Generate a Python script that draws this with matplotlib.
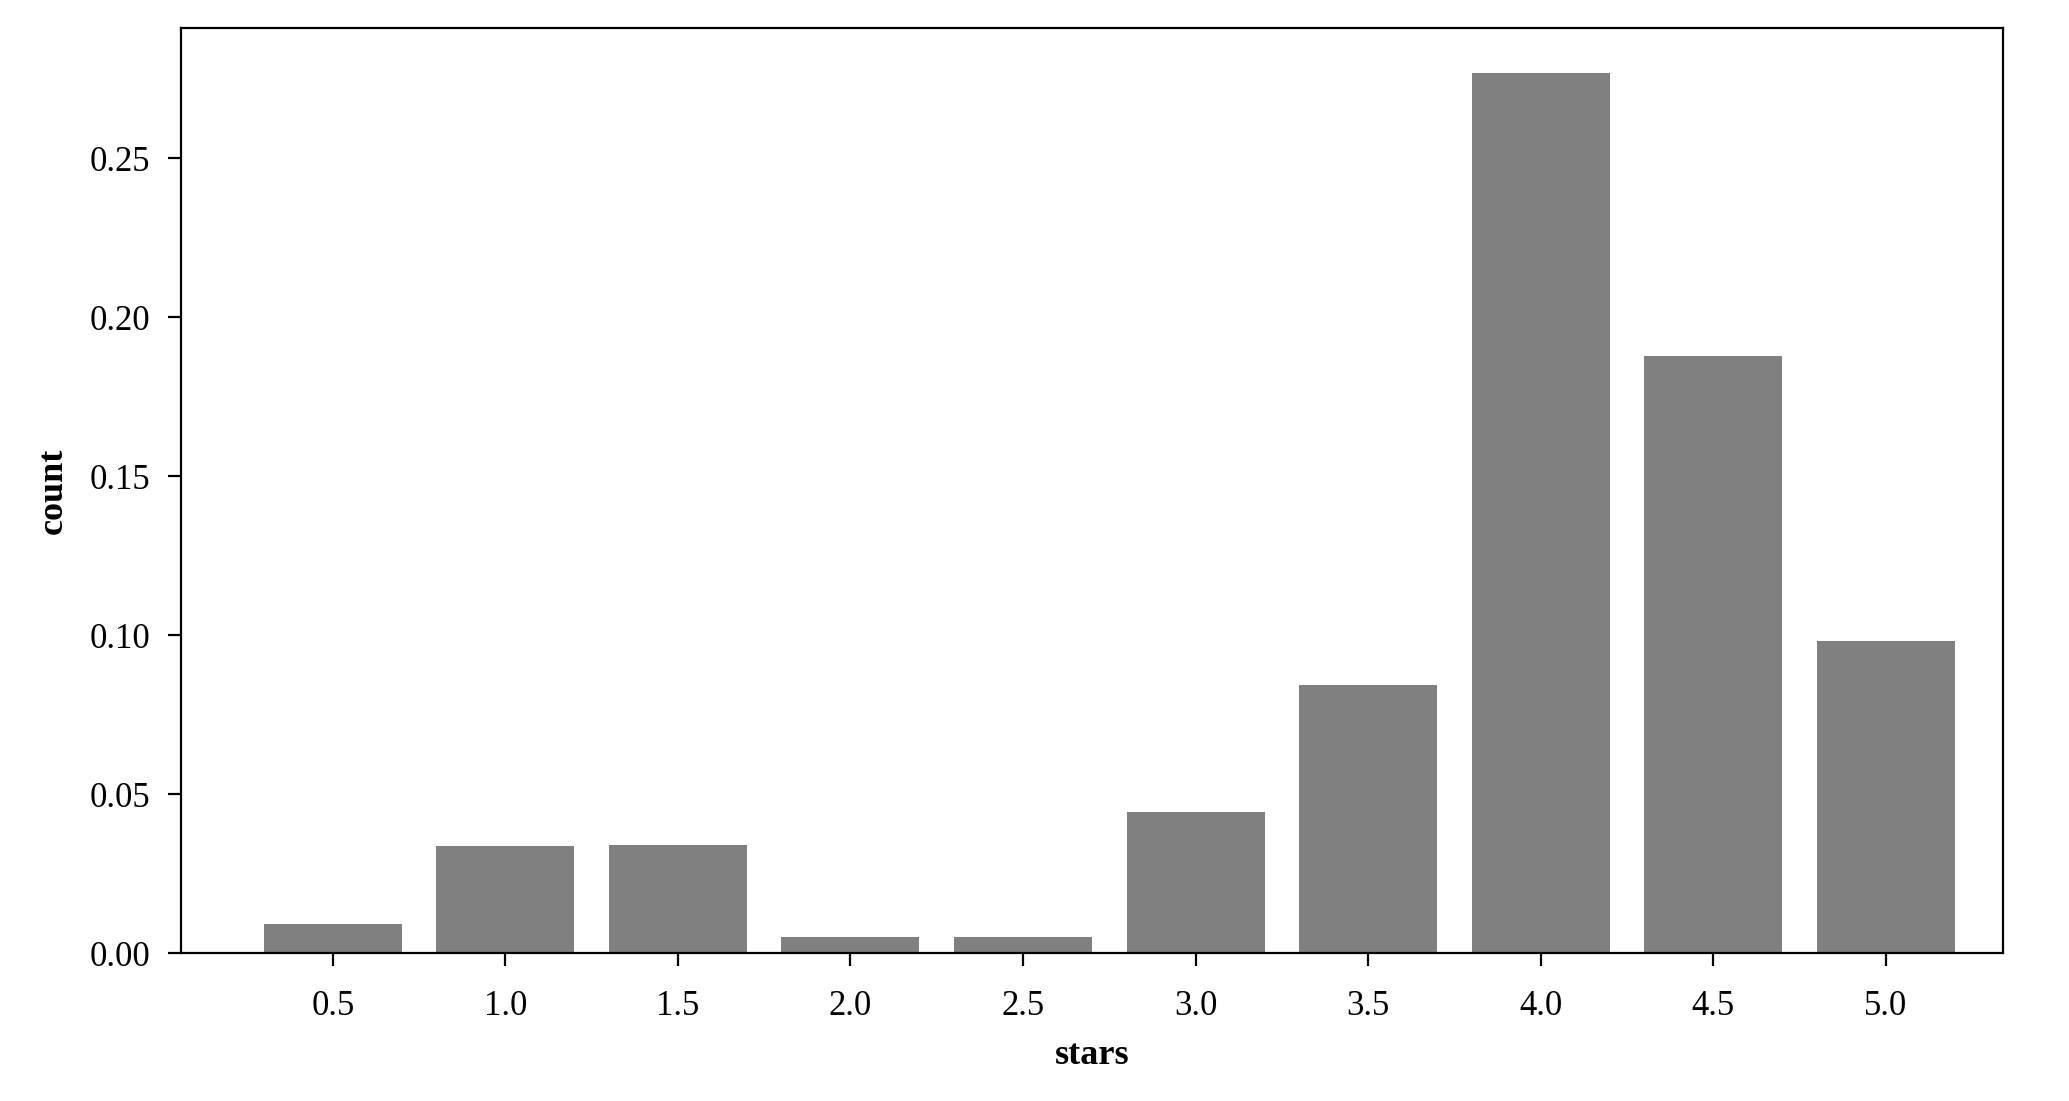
import matplotlib
matplotlib.use("Agg")
import matplotlib.pyplot as plt

# stars rating distribution (share of ratings)
stars = [0.5, 1.0, 1.5, 2.0, 2.5, 3.0, 3.5, 4.0, 4.5, 5.0]
count = [0.0091, 0.0336, 0.0340, 0.0050, 0.0050, 0.0443, 0.0843, 0.2767, 0.1877, 0.0981]
tick_labels = ["0.5", "1.0", "1.5", "2.0", "2.5", "3.0", "3.5", "4.0", "4.5", "5.0"]

plt.rcParams['font.family'] = ['Liberation Serif', 'DejaVu Serif']

fig = plt.figure(figsize=(2069 / 200, 1101 / 200), dpi=200)
ax = fig.add_axes([0.0875, 0.1344, 0.8806, 0.8402])

ax.bar(stars, count, width=0.4, color="grey")

ax.set_xticks(stars)
ax.set_xticklabels(tick_labels)
ax.set_yticks([0.0, 0.05, 0.10, 0.15, 0.20, 0.25])
ax.set_yticklabels(["0.00", "0.05", "0.10", "0.15", "0.20", "0.25"])
ax.set_xlim(0.06, 5.34)
ax.set_ylim(0, 0.291)
ax.tick_params(labelsize=12.5, length=4.7)
ax.tick_params(axis="x", pad=8.5)
ax.tick_params(axis="y", pad=6.5)

ax.set_xlabel("stars", fontweight="bold", fontsize=13, labelpad=6)
ax.set_ylabel("count", fontweight="bold", fontsize=13, labelpad=7)

fig.savefig("out.png", dpi=200)
